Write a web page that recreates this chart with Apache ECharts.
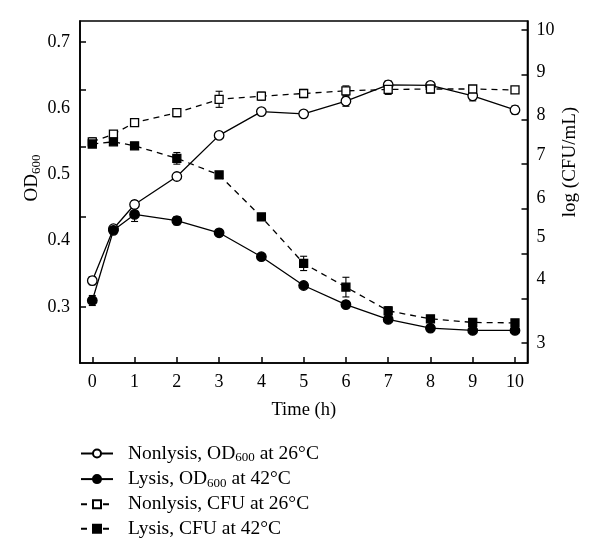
<!DOCTYPE html>
<html>
<head>
<meta charset="utf-8">
<script src="https://cdn.jsdelivr.net/npm/echarts@6/dist/echarts.min.js"></script>
<style>html,body{margin:0;padding:0;background:#fff}#c{width:600px;height:557px}</style>
</head>
<body>
<div id="c"></div>
<script>
// ---- data ----
const hours = [0, 0.5, 1, 2, 3, 4, 5, 6, 7, 8, 9, 10];
const odNonlysis    = [0.326, 0.385, 0.416, 0.455, 0.519, 0.560, 0.556, 0.579, 0.610, 0.609, 0.589, 0.563];
const odNonlysisErr = [0.0042, 0.0025, 0.0053, 0.0044, 0.0033, 0.0018, 0.0018, 0.0093, 0.0078, 0.0059, 0.0094, 0.0072];
const odLysis       = [0.306, 0.383, 0.403, 0.395, 0.380, 0.352, 0.321, 0.302, 0.288, 0.280, 0.278, 0.278];
const odLysisErr    = [0.0049, 0.0037, 0.009, 0.0051, 0.0012, 0.0034, 0.0021, 0.0019, 0.0009, 0.0009, 0.0009, 0.0009];
const cfuNonlysis    = [7.50, 7.67, 7.93, 8.15, 8.45, 8.52, 8.58, 8.64, 8.67, 8.68, 8.68, 8.66];
const cfuNonlysisErr = [0.09, 0.07, 0.07, 0.09, 0.18, 0.09, 0.09, 0.11, 0.11, 0.09, 0.07, 0.05];
const cfuLysis       = [7.45, 7.50, 7.41, 7.13, 6.76, 5.82, 4.78, 4.25, 3.72, 3.54, 3.46, 3.45];
const cfuLysisErr    = [0.07, 0.05, 0.07, 0.13, 0.07, 0.07, 0.16, 0.22, 0.09, 0.07, 0.07, 0.07];

const xTicks = [0, 1, 2, 3, 4, 5, 6, 7, 8, 9, 10];
const odTicks = [0.3, 0.4, 0.5, 0.6, 0.7];
const cfuTicks = [3, 4, 5, 6, 7, 8, 9, 10];

const seriesNames = [
  'Nonlysis, OD600 at 26°C',
  'Lysis, OD600 at 42°C',
  'Nonlysis, CFU at 26°C',
  'Lysis, CFU at 42°C'
];

// ---- helpers ----
const FONT = 'Liberation Serif';
const pts = (ys) => hours.map((h, i) => [h, ys[i]]);
const errs = (ys, es) => hours.map((h, i) => [h, ys[i] - es[i], ys[i] + es[i]]);

function renderErr(params, api) {
  const x = api.value(0);
  const p1 = api.coord([x, api.value(1)]);
  const p2 = api.coord([x, api.value(2)]);
  const w = 3.5;
  const st = { stroke: '#000', lineWidth: 1.1 };
  return {
    type: 'group',
    children: [
      { type: 'line', shape: { x1: p1[0], y1: p1[1], x2: p2[0], y2: p2[1] }, style: st },
      { type: 'line', shape: { x1: p1[0] - w, y1: p1[1], x2: p1[0] + w, y2: p1[1] }, style: st },
      { type: 'line', shape: { x1: p2[0] - w, y1: p2[1], x2: p2[0] + w, y2: p2[1] }, style: st }
    ]
  };
}

// right-axis label shifts as drawn in the reference (px upward)
const cfuLabelShift = { 3: 0, 4: 19, 5: 16, 6: 11, 7: 9, 8: 4, 9: 2, 10: 0 };
const cfuRich = {};
Object.keys(cfuLabelShift).forEach(k => {
  cfuRich['s' + k] = { fontFamily: FONT, fontSize: 18, color: '#000', padding: [0, 0, 2 * cfuLabelShift[k], 0] };
});

const subRich = {
  sub: { fontFamily: FONT, fontSize: 13, color: '#000', lineHeight: 12, padding: [8, 0, 0, 0] }
};

const chart = echarts.init(document.getElementById('c'), null, { renderer: 'canvas' });

const lineSeries = (name, data, yIdx, symbol, size, filled, dashed) => ({
  name, type: 'line', data, yAxisIndex: yIdx, symbol, symbolSize: size,
  z: 3,
  lineStyle: { color: '#000', width: 1.3, type: dashed ? [6, 5] : 'solid' },
  itemStyle: { color: filled ? '#000' : '#fff', borderColor: '#000', borderWidth: 1.3 },
  emphasis: { disabled: true },
  animation: false
});

const errSeries = (data, yIdx) => ({
  type: 'custom', renderItem: renderErr, data, yAxisIndex: yIdx,
  encode: { x: 0, y: [1, 2] }, z: 2, silent: true, animation: false
});

const tickStyle = { color: '#000', width: 1.5 };
const axLine = { show: true, onZero: false, lineStyle: { color: '#000', width: 1.6 } };

chart.setOption({
  animation: false,
  grid: {
    left: 80, top: 21, right: 72.5, bottom: 194,
    show: true, borderColor: '#000', borderWidth: 1.6, backgroundColor: 'transparent'
  },
  xAxis: {
    type: 'value', min: -0.291, max: 10.296,
    axisLine: axLine,
    splitLine: { show: false },
    axisTick: { inside: true, length: 6, lineStyle: tickStyle, customValues: xTicks },
    axisLabel: { customValues: xTicks, margin: 10, fontFamily: FONT, fontSize: 18, color: '#000' },
    name: 'Time (h)', nameLocation: 'middle', nameGap: 38,
    nameTextStyle: { fontFamily: FONT, fontSize: 18.5, color: '#000' }
  },
  yAxis: [
    {
      type: 'log', logBase: 10, min: 0.2505, max: 0.7484, position: 'left',
      axisLine: axLine, splitLine: { show: false },
      axisTick: { show: true, inside: true, length: 6, lineStyle: tickStyle, customValues: odTicks },
      axisLabel: { show: false }
    },
    {
      type: 'value', min: 2.5527, max: 10.2013, position: 'right',
      axisLine: axLine, splitLine: { show: false },
      axisTick: { show: true, inside: true, length: 6, lineStyle: tickStyle, customValues: cfuTicks },
      axisLabel: {
        customValues: cfuTicks, margin: 9, fontFamily: FONT, fontSize: 18, color: '#000',
        formatter: v => '{s' + Math.round(v) + '|' + Math.round(v) + '}',
        rich: cfuRich
      }
    },
    {
      type: 'value', min: 0.2155, max: 0.7317, position: 'left',
      axisLine: { show: false, onZero: false }, splitLine: { show: false }, axisTick: { show: false },
      axisLabel: {
        customValues: odTicks, margin: 10, fontFamily: FONT, fontSize: 18, color: '#000',
        formatter: v => v.toFixed(1)
      }
    }
  ],
  legend: {
    orient: 'vertical', left: 80, top: 443, padding: 0,
    itemWidth: 32, itemHeight: 10, itemGap: 4.6,
    data: seriesNames,
    formatter: n => n.replace('OD600', 'OD{sub|600}'),
    textStyle: {
      fontFamily: FONT, fontSize: 19.5, color: '#000', lineHeight: 20, padding: [0, 0, 0, 10],
      rich: subRich
    },
    selectedMode: false
  },
  graphic: [
    {
      type: 'text', x: 32, y: 178, rotation: Math.PI / 2,
      style: {
        text: 'OD{sub|600}', fontFamily: FONT, fontSize: 19, fill: '#000',
        align: 'center', verticalAlign: 'middle', lineHeight: 21,
        rich: { sub: { fontFamily: FONT, fontSize: 13, fill: '#000', lineHeight: 13, padding: [9, 0, 0, 0] } }
      }
    },
    {
      type: 'text', x: 570, y: 162, rotation: Math.PI / 2,
      style: {
        text: 'log (CFU/mL)', fontFamily: FONT, fontSize: 19, fill: '#000',
        align: 'center', verticalAlign: 'middle'
      }
    }
  ],
  series: [
    errSeries(errs(odNonlysis, odNonlysisErr), 0),
    errSeries(errs(odLysis, odLysisErr), 0),
    errSeries(errs(cfuNonlysis, cfuNonlysisErr), 1),
    errSeries(errs(cfuLysis, cfuLysisErr), 1),
    lineSeries(seriesNames[0], pts(odNonlysis), 0, 'circle', 9.5, false, false),
    lineSeries(seriesNames[1], pts(odLysis), 0, 'circle', 9.5, true, false),
    lineSeries(seriesNames[2], pts(cfuNonlysis), 1, 'rect', 8, false, true),
    lineSeries(seriesNames[3], pts(cfuLysis), 1, 'rect', 8, true, true)
  ]
});
</script>
</body>
</html>
